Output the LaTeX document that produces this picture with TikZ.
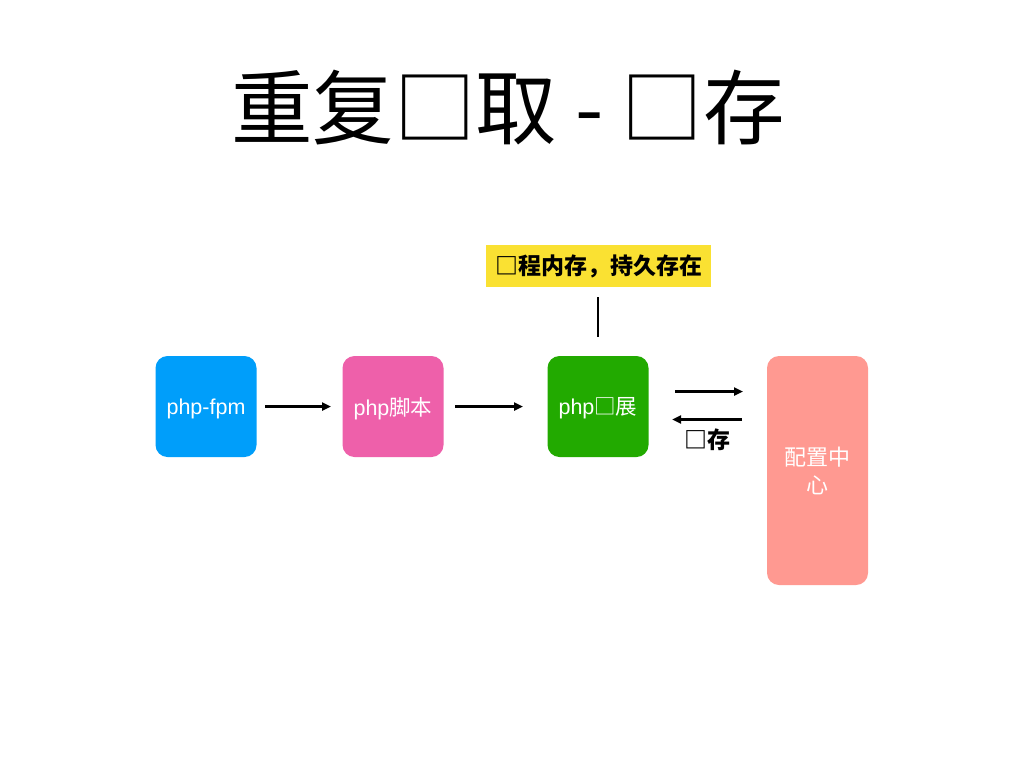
\documentclass[tikz,border=0pt]{standalone}
\usepackage{fontspec}
\setmainfont{Liberation Sans}
\newfontfamily\cjk{Noto Sans CJK SC}
\usetikzlibrary{arrows.meta}
\definecolor{cblue}{RGB}{0,158,250}
\definecolor{cpink}{RGB}{238,96,170}
\definecolor{cgreen}{RGB}{34,170,0}
\definecolor{csalmon}{RGB}{255,153,145}
\definecolor{cyellow}{RGB}{250,225,50}
\begin{document}
\begin{tikzpicture}[x=1pt,y=-1pt,
  box/.style={rounded corners=12pt,inner sep=0pt,minimum width=101pt,minimum height=101pt,text=white,font=\fontsize{21.5}{24}\selectfont},
  boxtext/.style={text=white,font=\fontsize{21.5}{24}\selectfont},
  arr/.style={line width=3pt,-{Triangle[length=9pt,width=8pt]}},
  lab/.style={font=\fontsize{23}{26}\selectfont\cjk\bfseries}]
\useasboundingbox (0,0) rectangle (1024,768);
\fill[white] (0,0) rectangle (1024,768);
\node[font=\fontsize{81.5}{86}\selectfont\cjk] (title) at (508,108) {重复□取 - □存};
\node[fill=cyellow,minimum width=225pt,minimum height=42pt,inner sep=0pt,font=\fontsize{23}{26}\selectfont\cjk\bfseries] (note) at (598.5,266) {□程内存，持久存在};
\coordinate (ntop) at (598,297);
\coordinate (nbot) at (598,337);
\draw[line width=2.2pt] (ntop) -- (nbot);
\node[box,fill=cblue] (fpm) at (206,406.5) {};
\node[boxtext] (fpmt) at (206,408.5) {php-fpm};
\node[box,fill=cpink] (script) at (393,406.5) {};
\node[boxtext] (scriptt) at (393,408.5) {php{\cjk 脚本}};
\node[box,fill=cgreen] (ext) at (598,406.5) {};
\node[boxtext] (extt) at (598,408.5) {php{\cjk □展}};
\node[box,fill=csalmon,minimum height=229pt,align=center,font=\fontsize{22}{28}\selectfont\cjk] (cfg) at (817.5,470.5) {配置中\\心};
\coordinate (a1s) at (265,406.5);
\coordinate (a1e) at (331,406.5);
\coordinate (a2s) at (455,406.5);
\coordinate (a2e) at (523,406.5);
\coordinate (a3s) at (675,391.5);
\coordinate (a3e) at (743,391.5);
\coordinate (a4s) at (742,419.5);
\coordinate (a4e) at (672,419.5);
\draw[arr] (a1s) -- (a1e);
\draw[arr] (a2s) -- (a2e);
\draw[arr] (a3s) -- (a3e);
\draw[arr] (a4s) -- (a4e);
\node[lab] (cache) at (707,440) {□存};
\end{tikzpicture}
\end{document}
